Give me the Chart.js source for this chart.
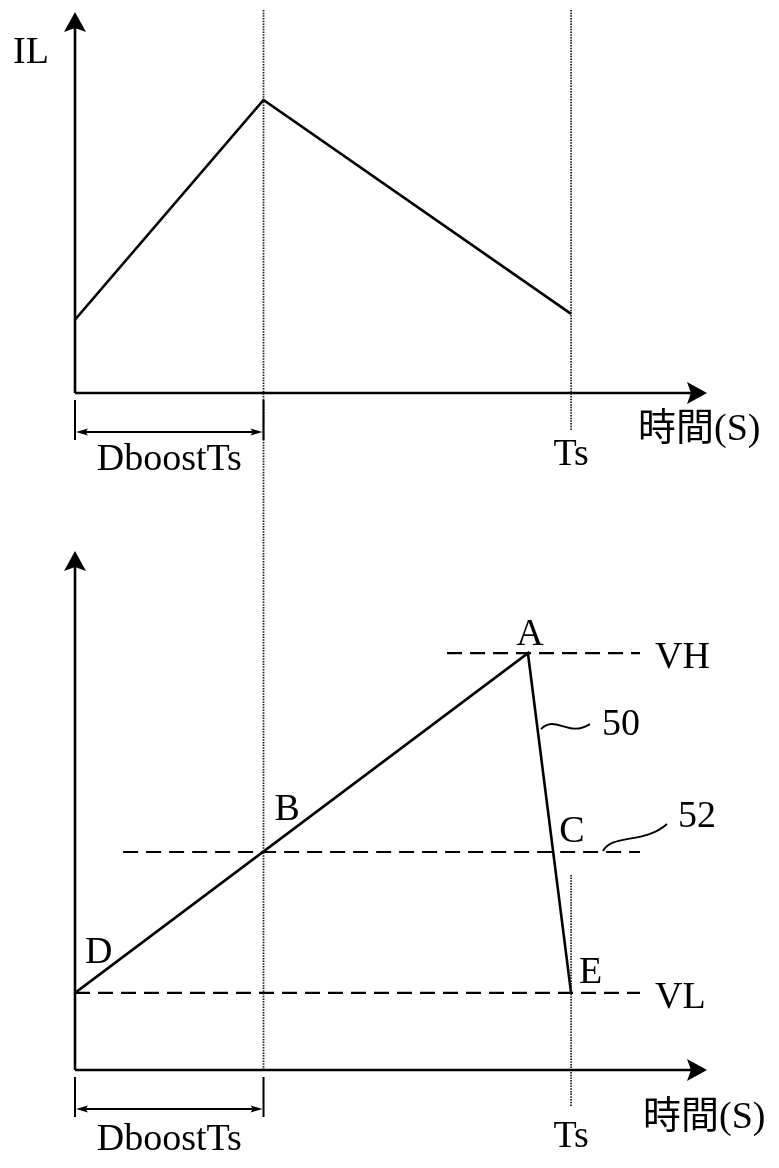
<!DOCTYPE html>
<html>
<head>
<meta charset="utf-8">
<script src="https://cdn.jsdelivr.net/npm/chart.js@4"></script>
<style>
  body { margin: 0; background: #fff; }
  #wrap { position: relative; width: 779px; height: 1168px; }
  canvas { position: absolute; left: 0; }
</style>
</head>
<body>
<div id="wrap">
  <canvas id="top" width="779" height="500" style="top:0"></canvas>
  <canvas id="bot" width="779" height="668" style="top:500px"></canvas>
</div>
<script>
// time axis, in units of one switching period Ts
const T_S = 1.0;
const D_BOOST = 0.38;
const X_MAX = 1.274;

// inductor current IL
const IL_T = [0, D_BOOST, T_S];
const IL_VAL = [0.25, 1.0, 0.27];
const IL_MAX = 1.3;

// ramp voltage 50: D -> A -> E
const V_T = [0, 0.913, T_S];
const V_VAL = [0.185, 1.0, 0.185];
const V_MAX = 1.245;

// reference levels
const VH = 1.0, VREF = 0.523, VL = 0.185;
const VH_SPAN = [0.75, 1.139];
const VREF_SPAN = [0.097, 1.139];
const VL_SPAN = [0, 1.139];

// vertical guide lines (value extents, running past the plot)
const TOP_GUIDE_D = [1.307, -0.37];
const TOP_GUIDE_TS = [1.307, -0.126];
const BOT_GUIDE_D = [1.37, 0];
const BOT_GUIDE_TS = [0.468, -0.089];

const FONT = '38px "Liberation Serif", "Noto Sans CJK TC", serif';

const pts = (xs, ys) => xs.map((x, i) => ({ x, y: ys[i] }));
const solid = (data) => ({ data, borderColor: "#000", borderWidth: 2.6, pointRadius: 0, tension: 0 });
const dashed = (span, y) => ({ data: [{ x: span[0], y }, { x: span[1], y }], borderColor: "#000", borderWidth: 2.2, borderDash: [15, 8], pointRadius: 0 });
const dotted = (x, ext) => ({ data: [{ x, y: ext[0] }, { x, y: ext[1] }], borderColor: "#222", borderWidth: 1.8, borderDash: [1.5, 1.2], pointRadius: 0, clip: false });

function arrowHead(ctx, tx, ty, dx, dy, len, hw) {
  const px = -dy, py = dx;
  ctx.beginPath();
  ctx.moveTo(tx, ty);
  ctx.lineTo(tx - dx * len + px * hw, ty - dy * len + py * hw);
  ctx.lineTo(tx - dx * len * 0.8, ty - dy * len * 0.8);
  ctx.lineTo(tx - dx * len - px * hw, ty - dy * len - py * hw);
  ctx.closePath();
  ctx.fill();
}

function drawFrame(chart) {
  const { ctx, chartArea: a, scales: { x, y } } = chart;
  const x0 = x.getPixelForValue(0), yb = y.getPixelForValue(0);
  ctx.save();
  ctx.strokeStyle = "#000";
  ctx.fillStyle = "#000";
  ctx.lineWidth = 2.6;
  ctx.beginPath();
  ctx.moveTo(x0, yb);
  ctx.lineTo(x0, a.top + 14);
  ctx.moveTo(x0, yb);
  ctx.lineTo(a.right - 14, yb);
  ctx.stroke();
  arrowHead(ctx, x0, a.top, 0, -1, 20, 11);
  arrowHead(ctx, a.right, yb, 1, 0, 20, 11);
  // DboostTs dimension bracket
  const xd = x.getPixelForValue(D_BOOST);
  ctx.lineWidth = 2;
  ctx.beginPath();
  ctx.moveTo(x0, yb + 7); ctx.lineTo(x0, yb + 47);
  ctx.moveTo(xd, yb + 7); ctx.lineTo(xd, yb + 47);
  ctx.moveTo(x0 + 6, yb + 39); ctx.lineTo(xd - 6, yb + 39);
  ctx.stroke();
  arrowHead(ctx, x0 + 1, yb + 39, -1, 0, 12, 3.5);
  arrowHead(ctx, xd - 1, yb + 39, 1, 0, 12, 3.5);
  ctx.restore();
  return { x0, yb, xd, xs: x.getPixelForValue(T_S) };
}

function text(ctx, s, px, py, align) {
  ctx.textAlign = align || "left";
  ctx.fillText(s, px, py);
}

const topPlugin = {
  id: "topDeco",
  afterDatasetsDraw(chart) {
    const { ctx } = chart;
    const f = drawFrame(chart);
    ctx.save();
    ctx.font = FONT;
    ctx.fillStyle = "#000";
    text(ctx, "IL", 13, 63);
    text(ctx, "DboostTs", (f.x0 + f.xd) / 2, f.yb + 77, "center");
    text(ctx, "Ts", f.xs, f.yb + 72, "center");
    text(ctx, "時間(S)", 638, f.yb + 47);
    ctx.restore();
  }
};

const botPlugin = {
  id: "botDeco",
  afterDatasetsDraw(chart) {
    const { ctx, scales: { x, y } } = chart;
    const f = drawFrame(chart);
    const yH = y.getPixelForValue(VH), yR = y.getPixelForValue(VREF), yL = y.getPixelForValue(VL);
    const xA = x.getPixelForValue(V_T[1]);
    // where the falling edge crosses the reference level
    const tC = V_T[1] + (V_T[2] - V_T[1]) * (V_VAL[1] - VREF) / (V_VAL[1] - V_VAL[2]);
    const xC = x.getPixelForValue(tC);
    ctx.save();
    ctx.font = FONT;
    ctx.fillStyle = "#000";
    text(ctx, "A", xA + 2, yH - 8, "center");
    text(ctx, "B", f.xd + 11, yR - 32);
    text(ctx, "C", xC + 6, yR - 10);
    text(ctx, "D", f.x0 + 10, yL - 30);
    text(ctx, "E", f.xs + 8, yL - 10);
    text(ctx, "VH", 655, yH + 15);
    text(ctx, "VL", 655, yL + 15);
    text(ctx, "50", 602, yH + 82);
    text(ctx, "52", 678, yR - 25);
    text(ctx, "DboostTs", (f.x0 + f.xd) / 2, f.yb + 80, "center");
    text(ctx, "Ts", f.xs, f.yb + 77, "center");
    text(ctx, "時間(S)", 643, f.yb + 58);
    // leader squiggles
    ctx.strokeStyle = "#000";
    ctx.lineWidth = 1.8;
    const y50 = yH + 75;
    ctx.beginPath();
    ctx.moveTo(xA + 13, y50 + 1);
    ctx.bezierCurveTo(xA + 28, y50 - 14, xA + 40, y50 + 10, xA + 62, y50 - 4);
    ctx.stroke();
    ctx.beginPath();
    ctx.moveTo(603, yR - 1);
    ctx.bezierCurveTo(612, yR - 18, 645, yR - 8, 667, yR - 28);
    ctx.stroke();
    ctx.restore();
  }
};

const common = (padTop, padBottom, yMax) => ({
  responsive: false,
  animation: false,
  events: [],
  layout: { padding: { left: 75, right: 72, top: padTop, bottom: padBottom } },
  plugins: { legend: { display: false }, tooltip: { enabled: false } },
  scales: {
    x: { type: "linear", min: 0, max: X_MAX, display: false },
    y: { type: "linear", min: 0, max: yMax, display: false }
  }
});

new Chart(document.getElementById("top"), {
  type: "line",
  data: {
    datasets: [
      dotted(D_BOOST, TOP_GUIDE_D),
      dotted(T_S, TOP_GUIDE_TS),
      solid(pts(IL_T, IL_VAL))
    ]
  },
  options: common(12, 107, IL_MAX),
  plugins: [topPlugin]
});

new Chart(document.getElementById("bot"), {
  type: "line",
  data: {
    datasets: [
      dotted(D_BOOST, BOT_GUIDE_D),
      dotted(T_S, BOT_GUIDE_TS),
      dashed(VH_SPAN, VH),
      dashed(VREF_SPAN, VREF),
      dashed(VL_SPAN, VL),
      solid(pts(V_T, V_VAL))
    ]
  },
  options: common(51, 98, V_MAX),
  plugins: [botPlugin]
});
</script>
</body>
</html>
